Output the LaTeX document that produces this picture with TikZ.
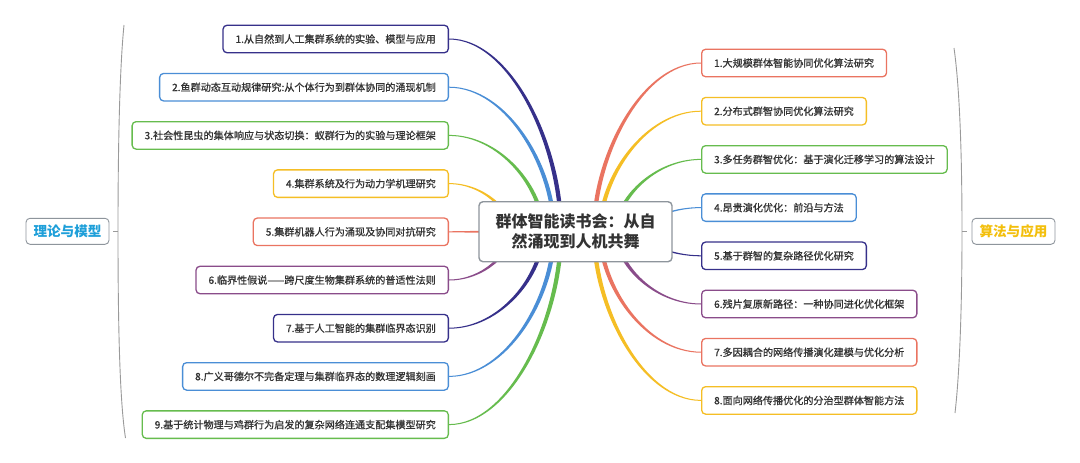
\documentclass[tikz,border=0pt]{standalone}
\usepackage{fontspec}
\setmainfont{Noto Sans CJK SC}
\newfontfamily\leaffont{Noto Sans CJK SC}[FakeBold=0.9]
\usetikzlibrary{calc}
\definecolor{cnavy}{HTML}{36308A}
\definecolor{cblue}{HTML}{4A8ED6}
\definecolor{cgreen}{HTML}{66BC4E}
\definecolor{cyellow}{HTML}{F5BE25}
\definecolor{csalmon}{HTML}{EA7461}
\definecolor{cpurple}{HTML}{8A4C8A}
\definecolor{txtgray}{HTML}{333333}
\definecolor{bordergray}{HTML}{8E959C}
\definecolor{lblue}{HTML}{1E9FD9}
\definecolor{lgold}{HTML}{F3BF0C}
\definecolor{brkgray}{HTML}{9A9A9A}
\pgfdeclarelayer{back}
\pgfdeclarelayer{bg}
\pgfsetlayers{back,bg,main}
\tikzset{
  leaf/.style={draw=#1, line width=1.3pt, rounded corners=4pt, fill=white,
    minimum height=27.5pt, inner xsep=12.5pt, inner ysep=0pt, text=txtgray,
    font=\leaffont\fontsize{10.1}{12}\selectfont},
  ctrbox/.style={draw=bordergray, line width=1.4pt, rounded corners=4pt, fill=white,
    minimum width=193pt, minimum height=60pt, align=center, text=txtgray,
    font=\fontsize{16}{20}\selectfont\bfseries},
  catbox/.style={draw=bordergray, line width=0.9pt, rounded corners=4pt, fill=white,
    minimum width=83pt, minimum height=26pt, inner sep=0pt,
    font=\fontsize{13.6}{15}\selectfont\bfseries},
  brk/.style={draw=brkgray, line width=0.9pt},
}
% tapered curved branch: #1 colour, #2 end anchor, #3 horizontal offset of the hidden start
\newcommand\tbranch[3]{%
  \coordinate (bE) at (#2);
  \coordinate (bT) at ($(bE)+(#3,0)$);
  \coordinate (bS) at (bT |- ctr.center);
  \coordinate (bM) at (bE |- ctr.center);
  \coordinate (bSo) at ($(bS)!-2.2pt!(bM)$);
  \coordinate (bSi) at ($(bS)!2.2pt!(bM)$);
  \coordinate (bEo) at ($(bE)!-0.5pt!(bM)$);
  \coordinate (bEi) at ($(bE)!0.5pt!(bM)$);
  \coordinate (bKo) at (bSo |- bEo);
  \coordinate (bKi) at (bSi |- bEi);
  \fill[#1] (bSo) .. controls ($(bSo)!0.45!(bKo)$) and ($(bEo)!0.55!(bKo)$) .. (bEo)
    -- (bEi) .. controls ($(bEi)!0.55!(bKi)$) and ($(bSi)!0.45!(bKi)$) .. (bSi) -- cycle;
}
\begin{document}
\begin{tikzpicture}[x=1pt,y=-1pt]
\useasboundingbox (0,0) rectangle (1080,463);
\begin{pgfonlayer}{back}
\fill[white] (0,0) rectangle (1080,463);
\end{pgfonlayer}

% central topic
\node[ctrbox] (ctr) at (575.5,231.7) {群体智能读书会：从自\\然涌现到人机共舞};

% left topics
\node[leaf=cnavy,   anchor=east] (l1) at (449,39.0)  {1.从自然到人工集群系统的实验、模型与应用};
\node[leaf=cblue,   anchor=east] (l2) at (449,87.2)  {2.鱼群动态互动规律研究:从个体行为到群体协同的涌现机制};
\node[leaf=cgreen,  anchor=east] (l3) at (449,135.4) {3.社会性昆虫的集体响应与状态切换：蚁群行为的实验与理论框架};
\node[leaf=cyellow, anchor=east] (l4) at (449,183.6) {4.集群系统及行为动力学机理研究};
\node[leaf=csalmon, anchor=east] (l5) at (449,231.8) {5.集群机器人行为涌现及协同对抗研究};
\node[leaf=cpurple, anchor=east] (l6) at (449,280.0) {6.临界性假说——跨尺度生物集群系统的普适性法则};
\node[leaf=cnavy,   anchor=east] (l7) at (449,328.2) {7.基于人工智能的集群临界态识别};
\node[leaf=cblue,   anchor=east] (l8) at (449,376.4) {8.广义哥德尔不完备定理与集群临界态的数理逻辑刻画};
\node[leaf=cgreen,  anchor=east] (l9) at (449,424.6) {9.基于统计物理与鸡群行为启发的复杂网络连通支配集模型研究};

% right topics
\node[leaf=csalmon, anchor=west] (r1) at (701,63.0)  {1.大规模群体智能协同优化算法研究};
\node[leaf=cyellow, anchor=west] (r2) at (701,111.2) {2.分布式群智协同优化算法研究};
\node[leaf=cgreen,  anchor=west] (r3) at (701,159.4) {3.多任务群智优化：基于演化迁移学习的算法设计};
\node[leaf=cblue,   anchor=west] (r4) at (701,207.6) {4.昂贵演化优化：前沿与方法};
\node[leaf=cnavy,   anchor=west] (r5) at (701,255.8) {5.基于群智的复杂路径优化研究};
\node[leaf=cpurple, anchor=west] (r6) at (701,304.0) {6.残片复原新路径：一种协同进化优化框架};
\node[leaf=csalmon, anchor=west] (r7) at (701,352.2) {7.多因耦合的网络传播演化建模与优化分析};
\node[leaf=cyellow, anchor=west] (r8) at (701,400.4) {8.面向网络传播优化的分治型群体智能方法};

% category labels
\node[catbox, text=lblue] (cl) at (67.5,231.3) {理论与模型};
\node[catbox, text=lgold] (cr) at (1013.5,231.3) {算法与应用};

% braces
\coordinate (lbk) at (118,231.7);
\coordinate (rbk) at (962,231.7);
\draw[brk] (124,25) .. controls (119.5,70) and (118,150) .. (lbk)
  .. controls (118,320) and (119.5,400) .. (125.5,438);
\draw[brk] (lbk) -- ++(-5,0);
\draw[brk] (954,48) .. controls (960,90) and (962,160) .. (rbk)
  .. controls (962,300) and (960,370) .. (955,413);
\draw[brk] (rbk) -- ++(5,0);

% branches
\begin{pgfonlayer}{bg}
\tbranch{cnavy}{l1.east}{112}
\tbranch{cblue}{l2.east}{105}
\tbranch{cgreen}{l3.east}{94}
\tbranch{cyellow}{l4.east}{62}
\fill[csalmon] ($(ctr.center)+(0,-2.2)$) -- ($(l5.east)+(0,-0.5)$) -- ($(l5.east)+(0,0.5)$) -- ($(ctr.center)+(0,2.2)$) -- cycle;
\tbranch{cpurple}{l6.east}{62}
\tbranch{cnavy}{l7.east}{94}
\tbranch{cblue}{l8.east}{105}
\tbranch{cgreen}{l9.east}{112}
\tbranch{csalmon}{r1.west}{-107}
\tbranch{cyellow}{r2.west}{-101}
\tbranch{cgreen}{r3.west}{-85}
\tbranch{cblue}{r4.west}{-58}
\tbranch{cnavy}{r5.west}{-58}
\tbranch{cpurple}{r6.west}{-85}
\tbranch{csalmon}{r7.west}{-101}
\tbranch{cyellow}{r8.west}{-107}
\end{pgfonlayer}
\end{tikzpicture}
\end{document}
